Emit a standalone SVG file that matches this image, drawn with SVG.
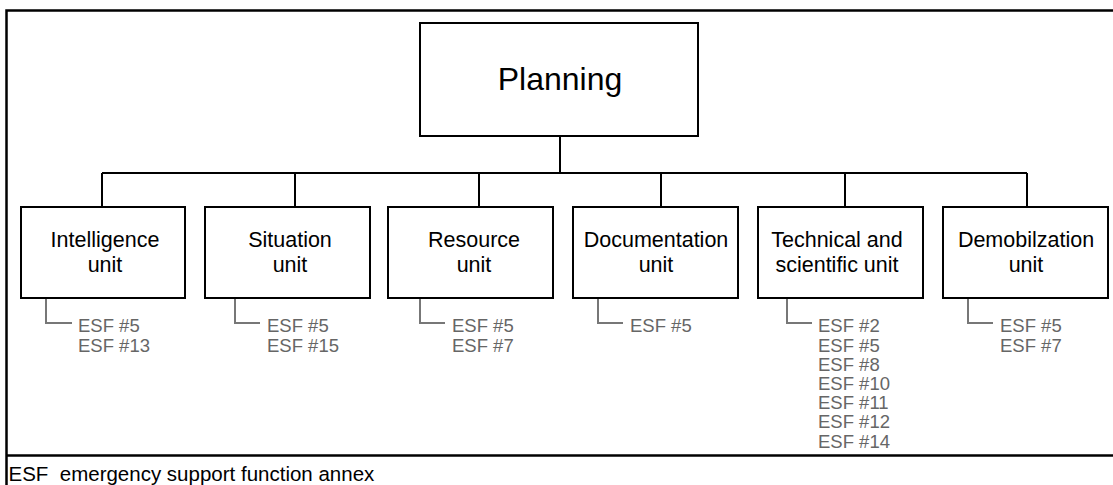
<svg xmlns="http://www.w3.org/2000/svg" width="1113" height="485" viewBox="0 0 1113 485">
<style>
.box{fill:#fff;stroke:#000;stroke-width:2}
.frame{stroke:#000;stroke-width:2.5;fill:none}
.conn{stroke:#000;stroke-width:2;fill:none}
.esfl{stroke:#777;stroke-width:2;fill:none}
.t{font-family:"Liberation Sans",Arial,sans-serif;font-size:21.5px;fill:#000;text-anchor:middle}
.tp{font-family:"Liberation Sans",Arial,sans-serif;font-size:32px;fill:#000;text-anchor:middle}
.e{font-family:"Liberation Sans",Arial,sans-serif;font-size:18.5px;fill:#666}
.f{font-family:"Liberation Sans",Arial,sans-serif;font-size:20.5px;fill:#000}
</style>
<rect width="1113" height="485" fill="#fff"/>
<g id="frame">
<path class="frame" d="M6.5 485V10.5H1113"/>
<path class="frame" d="M6.5 455.5H1113"/>
</g>
<g id="connectors">
<path class="conn" d="M560 136V173M102 173H1027M102 173V207M295 173V207M479 173V207M661 173V207M845 173V207M1027 173V207"/>
<path class="esfl" d="M46 298V323H72M235 298V323H260M420 298V323H445M598 298V323H623M787 298V323H812M968 298V323H993"/>
</g>
<g id="planning">
<rect class="box" x="420" y="23" width="278" height="113"/>
<text class="tp" x="560" y="90">Planning</text>
</g>
<g id="intelligence">
<rect class="box" x="21" y="207" width="164" height="91"/>
<text class="t" x="105" y="247">Intelligence</text>
<text class="t" x="105" y="272">unit</text>
<text class="e" x="78" y="332">ESF #5</text>
<text class="e" x="78" y="352">ESF #13</text>
</g>
<g id="situation">
<rect class="box" x="205" y="207" width="165" height="91"/>
<text class="t" x="290" y="247">Situation</text>
<text class="t" x="290" y="272">unit</text>
<text class="e" x="267" y="332">ESF #5</text>
<text class="e" x="267" y="352">ESF #15</text>
</g>
<g id="resource">
<rect class="box" x="388" y="207" width="165" height="91"/>
<text class="t" x="474" y="247">Resource</text>
<text class="t" x="474" y="272">unit</text>
<text class="e" x="452" y="332">ESF #5</text>
<text class="e" x="452" y="352">ESF #7</text>
</g>
<g id="documentation">
<rect class="box" x="573" y="207" width="165" height="91"/>
<text class="t" x="656" y="247">Documentation</text>
<text class="t" x="656" y="272">unit</text>
<text class="e" x="630" y="332">ESF #5</text>
</g>
<g id="technical">
<rect class="box" x="758" y="207" width="165" height="91"/>
<text class="t" x="837" y="247">Technical and</text>
<text class="t" x="837" y="272">scientific unit</text>
<text class="e" x="818" y="332">ESF #2</text>
<text class="e" x="818" y="352">ESF #5</text>
<text class="e" x="818" y="371">ESF #8</text>
<text class="e" x="818" y="390">ESF #10</text>
<text class="e" x="818" y="409">ESF #11</text>
<text class="e" x="818" y="428">ESF #12</text>
<text class="e" x="818" y="448">ESF #14</text>
</g>
<g id="demobilization">
<rect class="box" x="943" y="207" width="165" height="91"/>
<text class="t" x="1026" y="247">Demobilzation</text>
<text class="t" x="1026" y="272">unit</text>
<text class="e" x="1000" y="332">ESF #5</text>
<text class="e" x="1000" y="352">ESF #7</text>
</g>
<g id="legend">
<text class="f" x="8.5" y="481" xml:space="preserve">ESF  emergency support function annex</text>
</g>
</svg>
